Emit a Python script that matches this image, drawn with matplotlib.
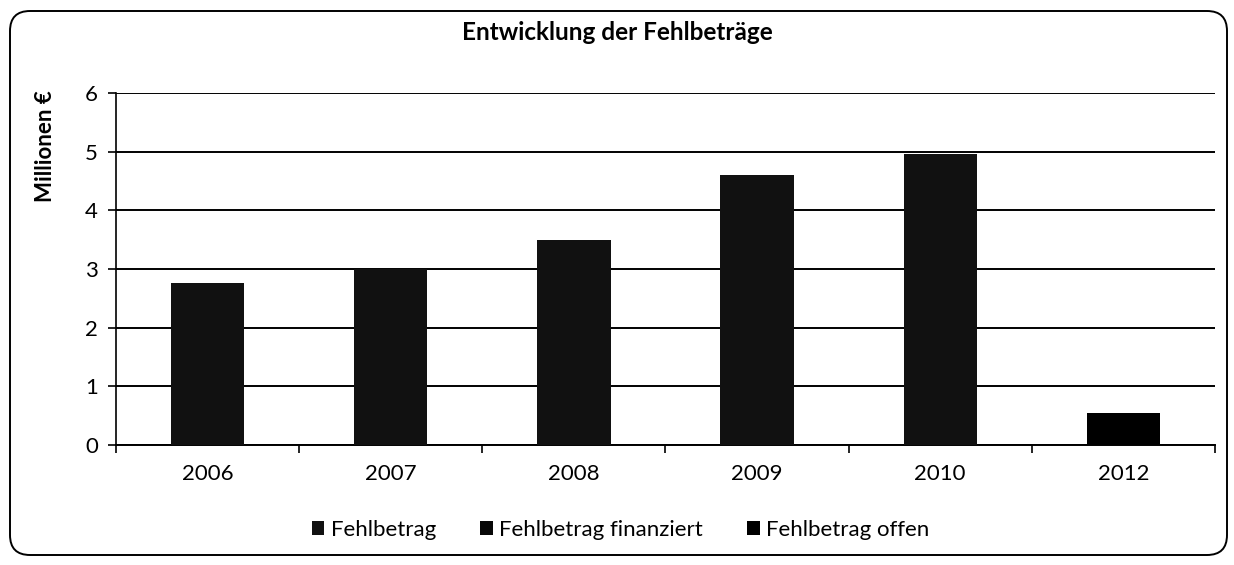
import matplotlib
matplotlib.use("Agg")
import matplotlib.pyplot as plt
from matplotlib.patches import FancyBboxPatch
import numpy as np

# data
years = ["2006", "2007", "2008", "2009", "2010", "2012"]
fehlbetrag = [2.76, 3.0, 3.5, 4.6, 4.96, 0.0]
fehlbetrag_finanziert = [0.0, 0.0, 0.0, 0.0, 0.0, 0.0]
fehlbetrag_offen = [0.0, 0.0, 0.0, 0.0, 0.0, 0.55]
yticks = [0, 1, 2, 3, 4, 5, 6]

plt.rcParams["font.family"] = ["Lato", "DejaVu Sans"]

fig = plt.figure(figsize=(12.34, 5.65), dpi=100)
ax = fig.add_axes([0.094, 0.2124, 0.8906, 0.623])

x = np.arange(len(years))
w = 0.4
b1 = np.array(fehlbetrag)
b2 = b1 + np.array(fehlbetrag_finanziert)
ax.bar(x, fehlbetrag, w, color="#111111", label="Fehlbetrag", zorder=3)
ax.bar(x, fehlbetrag_finanziert, w, bottom=b1, color="#080808",
       label="Fehlbetrag finanziert", zorder=3)
ax.bar(x, fehlbetrag_offen, w, bottom=b2, color="black",
       label="Fehlbetrag offen", zorder=3)

ax.set_xlim(-0.5, len(years) - 0.5)
ax.set_ylim(0, 6)
ax.set_yticks(yticks)
ax.yaxis.grid(True, color="black", linewidth=1.4, zorder=0)
ax.set_axisbelow(True)

# category labels centered, tick marks between categories
ax.set_xticks(x)
ax.set_xticklabels(years, fontsize=16)
ax.tick_params(axis="x", length=0, pad=14)
ax.set_xticks(np.arange(len(years) + 1) - 0.5, minor=True)
ax.tick_params(axis="x", which="minor", length=6, width=1.2, direction="out")
ax.tick_params(axis="y", labelsize=16, length=6, width=1.2, pad=7)

for s in ["top", "right"]:
    ax.spines[s].set_visible(False)
ax.spines["left"].set_linewidth(1.2)
ax.spines["bottom"].set_linewidth(1.4)

ax.set_ylabel("Millionen €", fontsize=16, fontweight="bold")
ax.yaxis.set_label_coords(-0.055, 0.85)
fig.text(0.5, 0.943, "Entwicklung der Fehlbeträge", ha="center", va="center",
         fontsize=17.5, fontweight="bold")

fig.legend(loc="center", bbox_to_anchor=(0.503, 0.062), ncol=3, frameon=False,
           fontsize=16, handlelength=0.55, handleheight=0.55, handletextpad=0.3,
           columnspacing=2.0)

frame = FancyBboxPatch((0.10, 0.10), 12.17, 5.44,
                       boxstyle="round,pad=0,rounding_size=0.2",
                       transform=fig.dpi_scale_trans, fill=False,
                       edgecolor="black", linewidth=1.4)
fig.patches.append(frame)

fig.savefig("out.png", dpi=100)
